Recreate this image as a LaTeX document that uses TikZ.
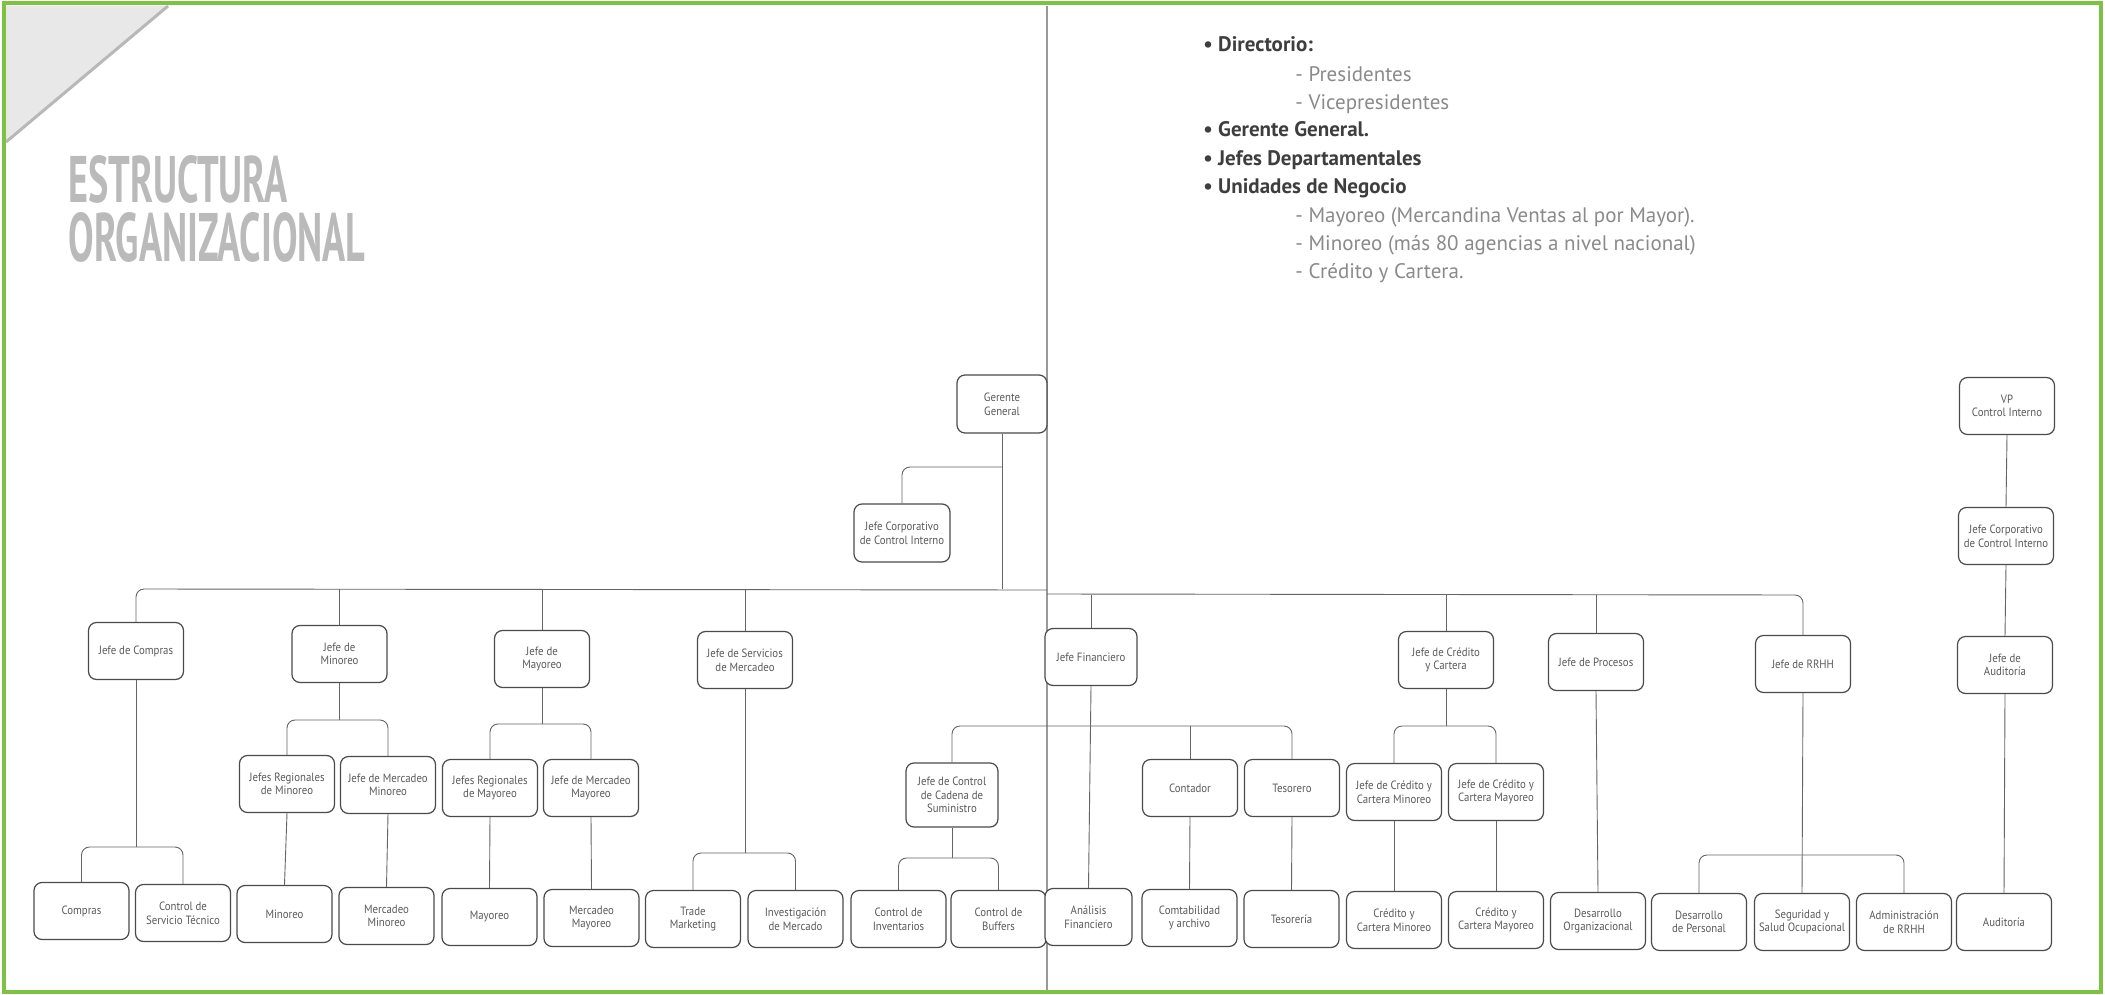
\documentclass[tikz,border=0pt]{standalone}
\usepackage{fontspec}
\usepackage{graphicx}
\setmainfont{PT Sans}
\newfontfamily\boxfam{PT Sans}[FakeStretch=0.9]
\definecolor{framegreen}{HTML}{7DC242}
\definecolor{inkline}{HTML}{4A4A4A}
\definecolor{inktext}{HTML}{5A5A5A}
\definecolor{bulletink}{HTML}{3E3E3E}
\definecolor{dashink}{HTML}{8A8A8A}
\definecolor{titleink}{HTML}{BABABA}
\begin{document}
\begin{tikzpicture}[x=0.5pt,y=-0.5pt,
  orgbox/.style={draw=inkline, line width=0.6pt, rounded corners=4pt, fill=white,
    minimum width=47.5pt, minimum height=28.5pt, inner sep=1pt, align=center,
    text=inktext, font=\boxfam\fontsize{6}{6.8}\selectfont},
  link/.style={draw=inkline!85, line width=0.45pt, rounded corners=4pt},
  bigline/.style={anchor=base west, text=bulletink, font=\bfseries\fontsize{10.5}{12}\selectfont, inner sep=0pt},
  subline/.style={anchor=base west, text=dashink, font=\fontsize{10.5}{12}\selectfont, inner sep=0pt}]
\useasboundingbox (0,0) rectangle (2105,995);
\fill[white] (0,0) rectangle (2105,995);
% paper curl
\fill[black!9] (6,6) -- (168,6) -- (6,142) -- cycle;
\draw[black!28, line width=1.5pt] (168,6) -- (6,142);
% page fold
\draw[black!40, line width=0.8pt] (1047,6) -- (1047,990);
% title
\node[anchor=north west, inner sep=0pt, text=titleink, align=left] (title) at (68,155)
  {\resizebox{109.5pt}{23.5pt}{\bfseries ESTRUCTURA}\\[3.5pt]
   \resizebox{148.5pt}{24.5pt}{\bfseries ORGANIZACIONAL}};
% text block
\node[bigline] (l1) at (1203,52) {• Directorio:};
\node[subline] (l2) at (1295,82) {- Presidentes};
\node[subline] (l3) at (1295,110) {- Vicepresidentes};
\node[bigline] (l4) at (1203,137) {• Gerente General.};
\node[bigline] (l5) at (1203,165) {• Jefes Departamentales};
\node[bigline] (l6) at (1203,193) {• Unidades de Negocio};
\node[subline] (l7) at (1295,222) {- Mayoreo (Mercandina Ventas al por Mayor).};
\node[subline] (l8) at (1295,250) {- Minoreo (más 80 agencias a nivel nacional)};
\node[subline] (l9) at (1295,278) {- Crédito y Cartera.};
% level coordinates
\coordinate (busL) at (0,589);
\coordinate (foldL) at (1047,590);
\coordinate (busR) at (0,595);
\coordinate (foldR) at (1047,594);
\coordinate (ggbr) at (0,467);
\coordinate (bMin) at (0,720);
\coordinate (bMay) at (0,724);
\coordinate (bFin) at (0,726);
\coordinate (bCC) at (0,726);
\coordinate (bCom) at (0,847);
\coordinate (bSM) at (0,853);
\coordinate (bCad) at (0,858);
\coordinate (bRH) at (0,855);
% top boxes
\node[orgbox, minimum width=45pt, minimum height=29pt] (gg) at (1002,404) {Gerente\\General};
\node[orgbox, minimum width=48pt, minimum height=29pt] (jci) at (902,533) {Jefe Corporativo\\de Control Interno};
\node[orgbox] (vp) at (2007,406) {VP\\Control Interno};
\node[orgbox] (jci2) at (2006,536) {Jefe Corporativo\\de Control Interno};
% level 1
\node[orgbox] (jcom) at (136,651) {Jefe de Compras};
\node[orgbox] (jmin) at (339.5,654) {Jefe de\\Minoreo};
\node[orgbox] (jmay) at (542,659) {Jefe de\\Mayoreo};
\node[orgbox] (jsm) at (745,660) {Jefe de Servicios\\de Mercadeo};
\node[orgbox, minimum width=46pt] (jfin) at (1091,657) {Jefe Financiero};
\node[orgbox] (jcc) at (1446,660) {Jefe de Crédito\\y Cartera};
\node[orgbox] (jpro) at (1596,662) {Jefe de Procesos};
\node[orgbox] (jrh) at (1803,664) {Jefe de RRHH};
\node[orgbox] (jaud) at (2005,665) {Jefe de\\Auditoría};
% level 2
\node[orgbox] (rmin) at (287,784) {Jefes Regionales\\de Minoreo};
\node[orgbox] (mmin) at (388,785) {Jefe de Mercadeo\\Minoreo};
\node[orgbox] (rmay) at (490,788) {Jefes Regionales\\de Mayoreo};
\node[orgbox] (mmay) at (591,788) {Jefe de Mercadeo\\Mayoreo};
\node[orgbox, minimum width=46pt, minimum height=32pt] (jccs) at (952,795) {Jefe de Control\\de Cadena de\\Suministro};
\node[orgbox] (cont) at (1190,788) {Contador};
\node[orgbox] (teso) at (1292,788) {Tesorero};
\node[orgbox] (ccmin) at (1394,792) {Jefe de Crédito y\\Cartera Minoreo};
\node[orgbox] (ccmay) at (1496,792) {Jefe de Crédito y\\Cartera Mayoreo};
% level 3
\node[orgbox] (compras) at (81.5,911) {Compras};
\node[orgbox] (cst) at (183,913) {Control de\\Servicio Técnico};
\node[orgbox] (mino) at (284.5,914) {Minoreo};
\node[orgbox] (mermin) at (386.5,916) {Mercadeo\\Minoreo};
\node[orgbox] (mayo) at (489.5,917) {Mayoreo};
\node[orgbox] (mermay) at (591.5,918) {Mercadeo\\Mayoreo};
\node[orgbox] (trade) at (693,919) {Trade\\Marketing};
\node[orgbox] (inv) at (795.5,919) {Investigación\\de Mercado};
\node[orgbox] (cinv) at (898.5,919) {Control de\\Inventarios};
\node[orgbox] (cbuf) at (998.5,919) {Control de\\Buffers};
\node[orgbox, minimum width=43.5pt] (anf) at (1088.5,917) {Análisis\\Financiero};
\node[orgbox] (comt) at (1189.5,918) {Comtabilidad\\y archivo};
\node[orgbox] (tesr) at (1291.5,919) {Tesorería};
\node[orgbox] (crmin) at (1394,920) {Crédito y\\Cartera Minoreo};
\node[orgbox] (crmay) at (1496,920) {Crédito y\\Cartera Mayoreo};
\node[orgbox] (dorg) at (1598,921) {Desarrollo\\Organizacional};
\node[orgbox] (dper) at (1699,922) {Desarrollo\\de Personal};
\node[orgbox] (seg) at (1802,922) {Seguridad y\\Salud Ocupacional};
\node[orgbox] (adm) at (1904,922) {Administración\\de RRHH};
\node[orgbox] (aud) at (2004,922) {Auditoría};
% connectors: top
\draw[link] (gg.south) -- (gg.south |- busL);
\draw[link] (gg.south |- ggbr) -- (jci.north |- ggbr) -- (jci.north);
\draw[link] (jcom.north) -- (jcom.north |- busL) -- (foldL);
\draw[link] (jmin.north) -- (jmin.north |- busL);
\draw[link] (jmay.north) -- (jmay.north |- busL);
\draw[link] (jsm.north) -- (jsm.north |- busL);
\draw[link] (foldR) -- (jrh.north |- busR) -- (jrh.north);
\draw[link] (jfin.north) -- (jfin.north |- busR);
\draw[link] (jcc.north) -- (jcc.north |- busR);
\draw[link] (jpro.north) -- (jpro.north |- busR);
\draw[link] (vp.south) -- (jci2.north);
\draw[link] (jci2.south) -- (jaud.north);
\draw[link] (jaud.south) -- (aud.north);
% Compras
\draw[link] (jcom.south) -- (jcom.south |- bCom);
\draw[link] (compras.north) -- (compras.north |- bCom) -- (cst.north |- bCom) -- (cst.north);
% Minoreo
\draw[link] (jmin.south) -- (jmin.south |- bMin);
\draw[link] (rmin.north) -- (rmin.north |- bMin) -- (mmin.north |- bMin) -- (mmin.north);
\draw[link] (rmin.south) -- (mino.north);
\draw[link] (mmin.south) -- (mermin.north);
% Mayoreo
\draw[link] (jmay.south) -- (jmay.south |- bMay);
\draw[link] (rmay.north) -- (rmay.north |- bMay) -- (mmay.north |- bMay) -- (mmay.north);
\draw[link] (rmay.south) -- (mayo.north);
\draw[link] (mmay.south) -- (mermay.north);
% Servicios de Mercadeo
\draw[link] (jsm.south) -- (jsm.south |- bSM);
\draw[link] (trade.north) -- (trade.north |- bSM) -- (inv.north |- bSM) -- (inv.north);
% Financiero
\draw[link] (jfin.south) -- (anf.north);
\draw[link] (jccs.north) -- (jccs.north |- bFin) -- (teso.north |- bFin) -- (teso.north);
\draw[link] (cont.north) -- (cont.north |- bFin);
\draw[link] (cont.south) -- (comt.north);
\draw[link] (teso.south) -- (tesr.north);
\draw[link] (jccs.south) -- (jccs.south |- bCad);
\draw[link] (cinv.north) -- (cinv.north |- bCad) -- (cbuf.north |- bCad) -- (cbuf.north);
% Credito
\draw[link] (jcc.south) -- (jcc.south |- bCC);
\draw[link] (ccmin.north) -- (ccmin.north |- bCC) -- (ccmay.north |- bCC) -- (ccmay.north);
\draw[link] (ccmin.south) -- (crmin.north);
\draw[link] (ccmay.south) -- (crmay.north);
% Procesos
\draw[link] (jpro.south) -- (dorg.north);
% RRHH
\draw[link] (jrh.south) -- (seg.north);
\draw[link] (dper.north) -- (dper.north |- bRH) -- (adm.north |- bRH) -- (adm.north);
% frame
\draw[framegreen, line width=2.2pt] (4,3) rectangle (2101,992);
\end{tikzpicture}
\end{document}
